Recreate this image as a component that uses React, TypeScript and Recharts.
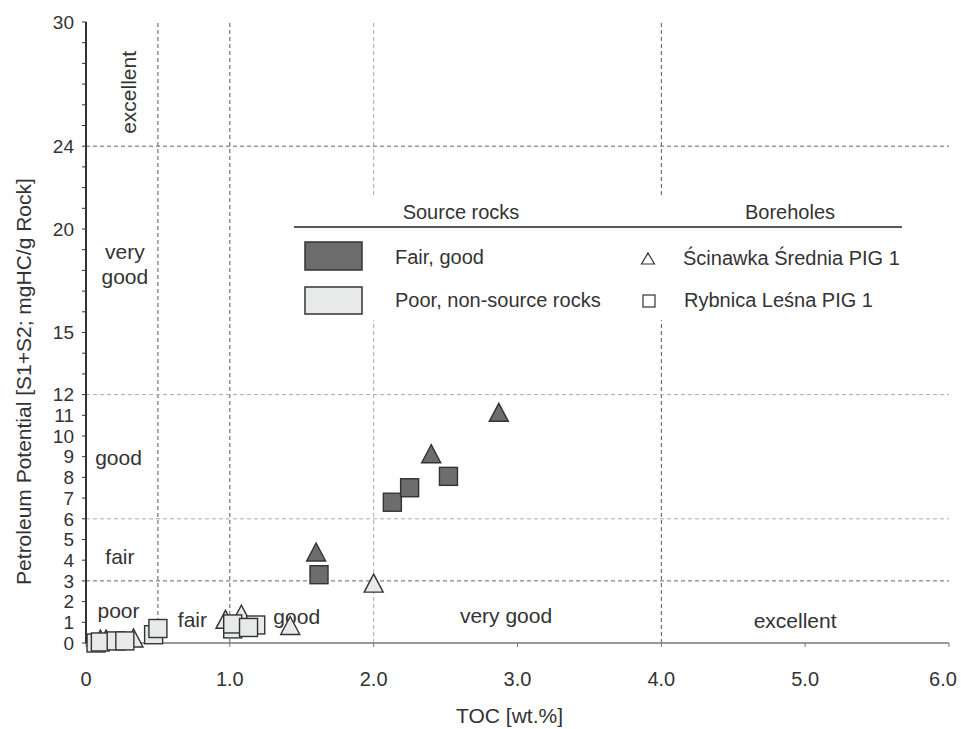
import React from "react";
import {
  ScatterChart,
  Scatter,
  XAxis,
  YAxis,
  ReferenceLine,
  ReferenceDot,
  Legend,
  Label,
} from "recharts";

// Ścinawka Średnia PIG 1 (triangles) and Rybnica Leśna PIG 1 (squares)
// TOC [wt.%] and S1+S2 [mgHC/g rock]
const scinawkaGoodToc = [1.6, 2.4, 2.87];
const scinawkaGoodPp = [4.25, 9.0, 11.0];
const rybnicaGoodToc = [1.62, 2.13, 2.25, 2.52];
const rybnicaGoodPp = [3.3, 6.8, 7.5, 8.05];
const scinawkaPoorToc = [0.1, 0.14, 0.33, 0.97, 1.08, 1.42, 2.0];
const scinawkaPoorPp = [0.05, 0.05, 0.1, 1.0, 1.25, 0.7, 2.75];
const rybnicaPoorToc = [0.07, 0.1, 0.21, 0.27, 0.47, 0.5, 1.02, 1.02, 1.18, 1.13];
const rybnicaPoorPp = [0, 0.05, 0.1, 0.1, 0.4, 0.7, 0.68, 0.92, 0.87, 0.75];

const xTicks = [0, 1, 2, 3, 4, 5, 6];
const yTicks = [
  0, 1, 2, 3, 4, 5, 6, 7, 8, 9, 10, 11, 12, 13, 14, 15, 16, 17, 18, 19, 20,
  21, 22, 23, 24, 25, 26, 27, 28, 29, 30,
];
const yTickLabels = [0, 1, 2, 3, 4, 5, 6, 7, 8, 9, 10, 11, 12, 15, 20, 24, 30];

// class limits
const tocLimitsMain = [0.5, 1, 4];
const tocLimitsMinor = [2];
const ppLimitsMain = [3, 24];
const ppLimitsMinor = [6, 12];

const zoneLabels = [
  { text: "excellent", toc: 0.295, pp: 26.6, angle: -90 },
  { text: "very", toc: 0.27, pp: 18.9, angle: 0 },
  { text: "good", toc: 0.27, pp: 17.7, angle: 0 },
  { text: "good", toc: 0.226, pp: 8.94, angle: 0 },
  { text: "fair", toc: 0.236, pp: 4.2, angle: 0 },
  { text: "poor", toc: 0.226, pp: 1.55, angle: 0 },
  { text: "fair", toc: 0.74, pp: 1.13, angle: 0 },
  { text: "good", toc: 1.465, pp: 1.3, angle: 0 },
  { text: "very good", toc: 2.92, pp: 1.35, angle: 0 },
  { text: "excellent", toc: 4.93, pp: 1.11, angle: 0 },
];

const sourceRockClasses = ["Fair, good", "Poor, non-source rocks"];
const boreholes = ["Ścinawka Średnia PIG 1", "Rybnica Leśna PIG 1"];

const DARK = "#6d6d6d";
const LIGHT = "#e8eaea";
const INK = "#333";
const FONT = '"Liberation Sans", Arial, sans-serif';

const toPoints = (toc: number[], pp: number[]) =>
  toc.map((t, i) => ({ toc: t, pp: pp[i] }));

const Triangle = (props: any) => {
  const { cx, cy, fill } = props;
  return (
    <polygon
      points={`${cx},${cy - 12} ${cx + 9.5},${cy + 6} ${cx - 9.5},${cy + 6}`}
      fill={fill}
      stroke={INK}
      strokeWidth={1.4}
    />
  );
};

const Square = (props: any) => {
  const { cx, cy, fill } = props;
  return (
    <rect
      x={cx - 9}
      y={cy - 9}
      width={18}
      height={18}
      fill={fill}
      stroke={INK}
      strokeWidth={1.4}
    />
  );
};

// last label sits a little left of its tick so it stays inside the frame
const TocTick = (props: any) => {
  const { x, y, payload } = props;
  const v = payload.value;
  const last = v === xTicks[xTicks.length - 1];
  return (
    <text
      x={last ? x - 6 : x}
      y={y}
      dy="0.71em"
      textAnchor="middle"
      fontSize={20}
      fill={INK}
    >
      {v === 0 ? "0" : v.toFixed(1)}
    </text>
  );
};

const LegendBox = () => (
  <svg width={636} height={124} style={{ display: "block", background: "#fff" }}>
    <g fontSize={20} fill={INK} dominantBaseline="central">
      <text x={171} y={16} textAnchor="middle">
        Source rocks
      </text>
      <text x={500} y={16} textAnchor="middle">
        Boreholes
      </text>
      <line x1={4} x2={612} y1={31} y2={31} stroke="#222" strokeWidth={1.5} />
      <rect x={15} y={46} width={57} height={28} fill={DARK} stroke={INK} strokeWidth={1.5} />
      <rect x={15} y={91} width={57} height={27} fill={LIGHT} stroke={INK} strokeWidth={1.5} />
      <text x={105} y={61}>{sourceRockClasses[0]}</text>
      <text x={105} y={104}>{sourceRockClasses[1]}</text>
      <polygon points="358,57 364.5,68 351.5,68" fill="#fff" stroke={INK} strokeWidth={1.2} />
      <rect x={353} y={99} width={12} height={12} fill="#fff" stroke={INK} strokeWidth={1.2} />
      <text x={393} y={62}>{boreholes[0]}</text>
      <text x={394} y={104}>{boreholes[1]}</text>
    </g>
  </svg>
);

export default function App() {
  return (
    <div style={{ position: "absolute", left: 0, top: 0, fontFamily: FONT }}>
      <ScatterChart
        width={961}
        height={729}
        margin={{ top: 22, right: 12, bottom: 26, left: 26 }}
      >
        <XAxis
          type="number"
          dataKey="toc"
          domain={[0, 6]}
          ticks={xTicks}
          interval={0}
          height={60}
          tickSize={4}
          tickMargin={25}
          axisLine={{ stroke: "#777", strokeWidth: 1.5 }}
          tickLine={{ stroke: "#777" }}
          tick={<TocTick />}
        >
          <Label
            content={(p: any) => (
              <text
                x={p.viewBox.x + p.viewBox.width / 2 - 8}
                y={723}
                textAnchor="middle"
                fontSize={21}
                fill={INK}
              >
                TOC [wt.%]
              </text>
            )}
          />
        </XAxis>
        <YAxis
          type="number"
          dataKey="pp"
          domain={[0, 30]}
          ticks={yTicks}
          interval={0}
          tickFormatter={(v: number) => (yTickLabels.includes(v) ? String(v) : "")}
          width={60}
          tickSize={4}
          tickMargin={8}
          axisLine={{ stroke: INK, strokeWidth: 2 }}
          tickLine={{ stroke: INK }}
          tick={{ fill: INK, fontSize: 19 }}
        >
          <Label
            content={(p: any) => (
              <text
                transform={`translate(${p.viewBox.x + 5}, ${
                  p.viewBox.y + p.viewBox.height / 2 + 49
                }) rotate(-90)`}
                textAnchor="middle"
                fontSize={21}
                fill={INK}
              >
                Petroleum Potential [S1+S2; mgHC/g Rock]
              </text>
            )}
          />
        </YAxis>

        {tocLimitsMain.map((v) => (
          <ReferenceLine key={`xm${v}`} x={v} stroke="#555" strokeDasharray="4 3" />
        ))}
        {tocLimitsMinor.map((v) => (
          <ReferenceLine key={`xn${v}`} x={v} stroke="#aaa" strokeDasharray="4 3" />
        ))}
        {ppLimitsMain.map((v) => (
          <ReferenceLine key={`ym${v}`} y={v} stroke="#666" strokeDasharray="4 3" />
        ))}
        {ppLimitsMinor.map((v) => (
          <ReferenceLine key={`yn${v}`} y={v} stroke="#aaa" strokeDasharray="4 3" />
        ))}

        {zoneLabels.map((z, i) => (
          <ReferenceDot
            key={`z${i}`}
            x={z.toc}
            y={z.pp}
            r={0}
            shape={(p: any) => (
              <text
                x={p.cx}
                y={p.cy}
                transform={z.angle ? `rotate(${z.angle} ${p.cx} ${p.cy})` : undefined}
                textAnchor="middle"
                dominantBaseline="central"
                fontSize={21}
                fill={INK}
              >
                {z.text}
              </text>
            )}
          />
        ))}

        <Scatter
          name="Ścinawka Średnia PIG 1 – poor"
          data={toPoints(scinawkaPoorToc, scinawkaPoorPp)}
          fill={LIGHT}
          shape={(p: any) => <Triangle {...p} />}
          isAnimationActive={false}
        />
        <Scatter
          name="Rybnica Leśna PIG 1 – poor"
          data={toPoints(rybnicaPoorToc, rybnicaPoorPp)}
          fill={LIGHT}
          shape={(p: any) => <Square {...p} />}
          isAnimationActive={false}
        />
        <Scatter
          name="Ścinawka Średnia PIG 1 – fair, good"
          data={toPoints(scinawkaGoodToc, scinawkaGoodPp)}
          fill={DARK}
          shape={(p: any) => <Triangle {...p} />}
          isAnimationActive={false}
        />
        <Scatter
          name="Rybnica Leśna PIG 1 – fair, good"
          data={toPoints(rybnicaGoodToc, rybnicaGoodPp)}
          fill={DARK}
          shape={(p: any) => <Square {...p} />}
          isAnimationActive={false}
        />

        <Legend
          layout="horizontal"
          verticalAlign="middle"
          align="center"
          content={() => <LegendBox />}
          wrapperStyle={{ left: 290, top: 196, width: 636, height: 124 }}
        />
      </ScatterChart>
    </div>
  );
}
